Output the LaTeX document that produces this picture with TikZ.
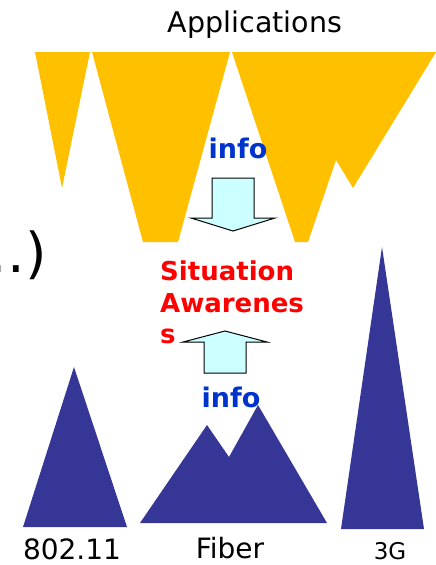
\documentclass[tikz,border=0pt]{standalone}
\usepackage{fontspec}
\setmainfont{DejaVu Sans}
\definecolor{appyellow}{RGB}{255,192,0}
\definecolor{netblue}{RGB}{54,54,150}
\definecolor{arrowcyan}{RGB}{204,255,255}
\definecolor{infoblue}{RGB}{0,51,204}
\definecolor{sared}{RGB}{255,0,0}
\begin{document}
\begin{tikzpicture}[x=1pt,y=-1pt,
  appl/.style={fill=appyellow},
  net/.style={fill=netblue},
  infoarrow/.style={draw=black,line width=1pt,fill=arrowcyan,line join=miter},
  lbl/.style={inner sep=0pt,anchor=base,text=black},
  infotxt/.style={inner sep=0pt,anchor=base,text=infoblue,font=\fontsize{27}{32}\selectfont\bfseries},
  satxt/.style={inner sep=0pt,anchor=base west,text=sared,font=\fontsize{26}{31}\selectfont\bfseries}]
\useasboundingbox (0,0) rectangle (436,565);
\clip (0,0) rectangle (436,565);
% applications (yellow)
\fill[appl] (35,52) -- (90,52) -- (62,188) -- cycle;
\fill[appl] (92,52) -- (230,52) -- (178,242) -- (143,242) -- cycle;
\fill[appl] (232,52) -- (436,52) -- (353,188) -- (336,160) -- (308,242) -- (295,242) -- cycle;
\node[lbl,font=\fontsize{28.5}{34}\selectfont] (apps) at (255,32) {Applications};
% networks (blue)
\fill[net] (23,527) -- (74,367) -- (127,527) -- cycle;
\fill[net] (140,523) -- (207,425) -- (229,457) -- (258,405) -- (327,523) -- cycle;
\fill[net] (341,529) -- (382,247) -- (424,529) -- cycle;
\node[lbl,font=\fontsize{28}{34}\selectfont] (wifi) at (72,559) {802.11};
\node[lbl,font=\fontsize{28}{34}\selectfont] (fiber) at (230,558) {Fiber};
\node[lbl,font=\fontsize{23}{28}\selectfont] (threeg) at (390,559) {3G};
% ellipsis
\node[inner sep=0pt,anchor=base east,font=\fontsize{55}{60}\selectfont] (dots) at (47,272) {…)};
% info arrows
\node[infotxt] (infotop) at (238,158) {info};
\draw[infoarrow] (212,178) -- (254,178) -- (254,218) -- (275,218) -- (233,231) -- (191,218) -- (212,218) -- cycle;
\node[satxt] (sa1) at (160,280) {Situation};
\node[satxt] (sa2) at (160,312) {Awarenes};
\node[satxt] (sa3) at (160,343) {s};
\draw[infoarrow] (204,373) -- (246,373) -- (246,342) -- (267,342) -- (225,331) -- (183,342) -- (204,342) -- cycle;
\node[infotxt] (infobot) at (231,407) {info};
\end{tikzpicture}
\end{document}
